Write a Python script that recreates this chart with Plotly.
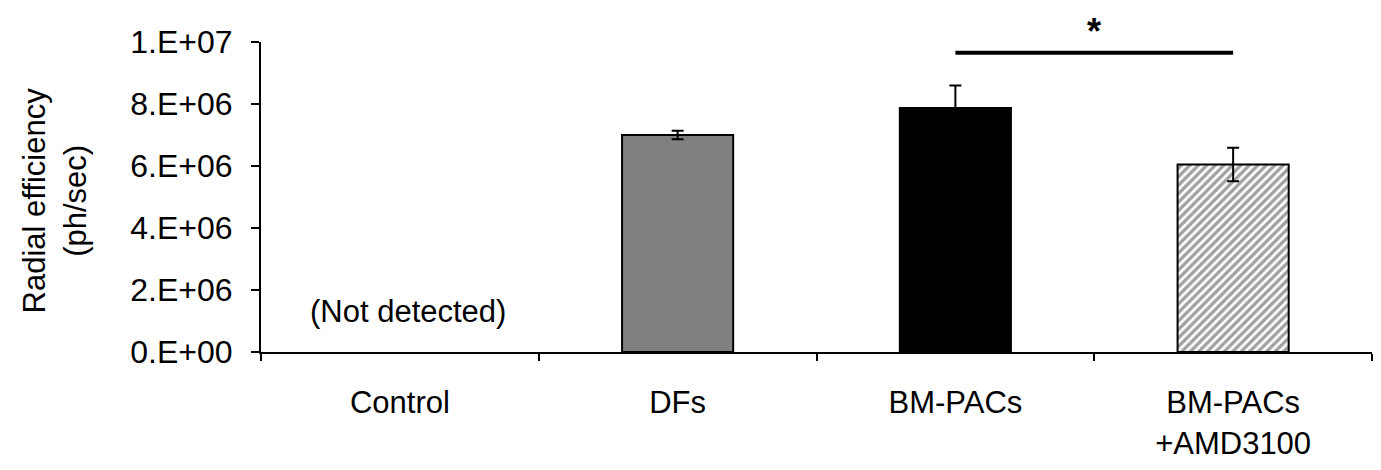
import plotly.graph_objects as go

categories = ["Control", "DFs", "BM-PACs", "BM-PACs<br>+AMD3100"]
values = [None, 7.0e6, 7.87e6, 6.05e6]
errors = [0, 0.14e6, 0.73e6, 0.54e6]
y_tickvals = [0, 2e6, 4e6, 6e6, 8e6, 1e7]
y_ticktext = ["0.E+00", "2.E+06", "4.E+06", "6.E+06", "8.E+06", "1.E+07"]
sig_pair = ["BM-PACs", "BM-PACs<br>+AMD3100"]
sig_level = [9.65e6, 9.65e6]

FONT = "Liberation Sans, Arial, sans-serif"

fig = go.Figure()

bar_colors = ["#808080", "#808080", "#000000", "#ffffff"]
pattern_shapes = ["", "", "", "/"]

fig.add_trace(go.Bar(
    x=categories,
    y=values,
    width=0.4,
    marker=dict(
        color=bar_colors,
        line=dict(color="black", width=2),
        pattern=dict(shape=pattern_shapes, fgcolor="black", bgcolor="white",
                     size=6, solidity=0.55, fillmode="overlay"),
    ),
    error_y=dict(type="data", array=errors, visible=True, color="black",
                 thickness=2, width=6),
    showlegend=False,
))

# significance bar
fig.add_trace(go.Scatter(
    x=sig_pair, y=sig_level, mode="lines",
    line=dict(color="black", width=4), showlegend=False, hoverinfo="skip",
))

fig.add_annotation(x=2.5, y=1.104, xref="x", yref="paper", text="<b>*</b>",
                   showarrow=False, font=dict(size=36, family=FONT, color="black"),
                   xanchor="center", yanchor="top", borderpad=0)

fig.add_annotation(x=0, y=1.3e6, xref="x", yref="y", text="(Not detected)",
                   showarrow=False, font=dict(size=31, family=FONT, color="black"),
                   xanchor="center", yanchor="middle", xshift=8)

fig.add_annotation(x=-0.186, y=0.49, xref="paper", yref="paper",
                   text="Radial efficiency<br>(ph/sec)", textangle=-90,
                   showarrow=False, font=dict(size=31, family=FONT, color="black"),
                   xanchor="center", yanchor="middle")

fig.update_xaxes(
    type="category",
    range=[-0.5, 3.5],
    showline=True, linecolor="black", linewidth=2,
    ticks="outside", tickson="boundaries", ticklen=7, tickwidth=2, tickcolor="black",
    showgrid=False, zeroline=False,
    tickfont=dict(size=31, family=FONT, color="black"),
    ticklabelstandoff=22,
)
fig.update_yaxes(
    range=[0, 1e7],
    tickvals=y_tickvals, ticktext=y_ticktext,
    showline=True, linecolor="black", linewidth=2,
    ticks="outside", ticklen=8, tickwidth=2, tickcolor="black",
    showgrid=False, zeroline=False,
    tickfont=dict(size=32, family=FONT, color="black"),
    ticklabelstandoff=12,
)

fig.update_layout(
    width=1373, height=462,
    margin=dict(l=253, r=9, t=34, b=114),
    plot_bgcolor="white", paper_bgcolor="white",
    font=dict(family=FONT, color="black"),
)

fig.write_html("out.html")
